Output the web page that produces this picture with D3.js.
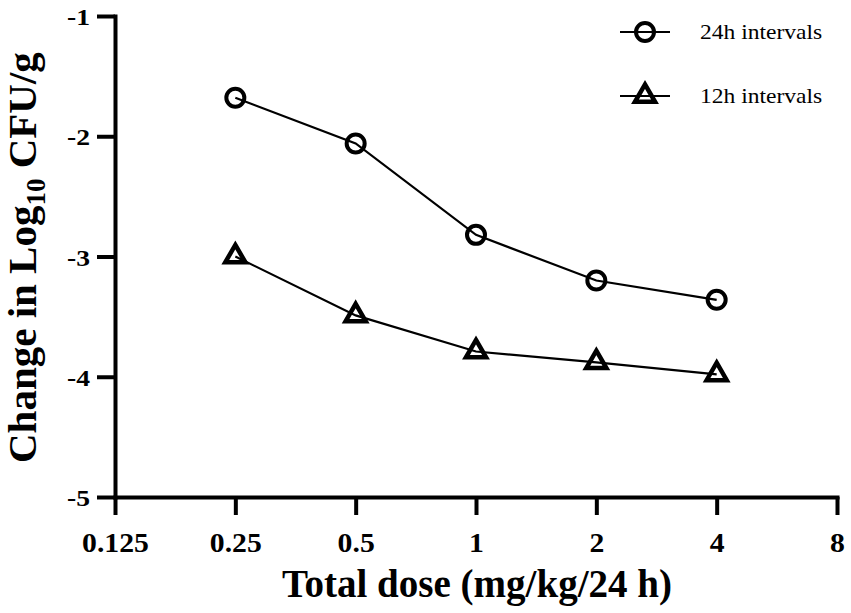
<!DOCTYPE html>
<html>
<head>
<meta charset="utf-8">
<script src="https://cdn.jsdelivr.net/npm/d3@7"></script>
<style>
  body { margin: 0; background: #fff; }
  svg { display: block; }
  text { font-family: "Liberation Serif", "Times New Roman", serif; fill: #000; }
</style>
</head>
<body>
<svg id="chart" width="851" height="613"></svg>
<script>
// ---- data ----
const doses = [0.25, 0.5, 1, 2, 4];
const series24h = [-1.68, -2.06, -2.82, -3.20, -3.36];
const series12h = [-3.00, -3.49, -3.79, -3.88, -3.98];
const seriesNames = ["24h intervals", "12h intervals"];
const xTickValues = [0.125, 0.25, 0.5, 1, 2, 4, 8];
const xTickLabels = ["0.125", "0.25", "0.5", "1", "2", "4", "8"];
const yTickValues = [-5, -4, -3, -2, -1];
const yTickLabels = ["-5", "-4", "-3", "-2", "-1"];

const svg = d3.select("#chart");
const x = d3.scaleLog().base(2).domain([0.125, 8]).range([115, 837]);
const y = d3.scaleLinear().domain([-5, -1]).range([497, 16]);

// x axis
const xAxis = svg.append("g").attr("transform", `translate(0,${y(-5)})`)
  .call(d3.axisBottom(x).tickValues(xTickValues)
    .tickFormat((d, i) => xTickLabels[i]).tickSize(18).tickSizeOuter(0).tickPadding(8));
xAxis.select(".domain").attr("stroke-width", 4).attr("stroke-linecap", "square");
xAxis.selectAll(".tick line").attr("stroke-width", 4);
xAxis.selectAll(".tick text")
  .attr("font-weight", "bold")
  .attr("font-size", 27).attr("transform", "scale(1.1,1)").attr("y", 55).attr("dy", 0);

// y axis
const yAxis = svg.append("g").attr("transform", `translate(${x(0.125)},0)`)
  .call(d3.axisLeft(y).tickValues(yTickValues)
    .tickFormat((d, i) => yTickLabels[i]).tickSize(18).tickSizeOuter(0).tickPadding(7));
yAxis.select(".domain").attr("stroke-width", 4).attr("stroke-linecap", "square");
yAxis.selectAll(".tick line").attr("stroke-width", 4);
yAxis.selectAll(".tick text")
  .attr("font-weight", "bold")
  .attr("font-size", 24).attr("x", -25 / 1.15).attr("dy", "0.36em").attr("transform", "scale(1.15,1)");

// axis titles
svg.append("text").attr("x", 282).attr("y", 597)
  .attr("font-weight", "bold").attr("font-size", 39)
  .attr("textLength", 390).attr("lengthAdjust", "spacingAndGlyphs")
  .text("Total dose (mg/kg/24 h)");

const yt = svg.append("text")
  .attr("transform", "translate(36,463) rotate(-90)")
  .attr("font-weight", "bold").attr("font-size", 41);
yt.append("tspan").text("Change in Log");
yt.append("tspan").attr("font-size", 27).attr("dy", 9).text("10");
yt.append("tspan").attr("dy", -9).text(" CFU/g");

// lines and markers
const line = d3.line().x((d, i) => x(doses[i])).y(d => y(d));
const triSym = d3.symbol().type(d3.symbolTriangle).size(175);

svg.append("path").datum(series24h).attr("d", line)
  .attr("fill", "none").attr("stroke", "#000").attr("stroke-width", 2.2);
svg.append("path").datum(series12h).attr("d", line)
  .attr("fill", "none").attr("stroke", "#000").attr("stroke-width", 2.2);

svg.selectAll("circle.m24").data(series24h).enter().append("circle")
  .attr("class", "m24")
  .attr("cx", (d, i) => x(doses[i])).attr("cy", d => y(d)).attr("r", 9)
  .attr("fill", "none").attr("stroke", "#000").attr("stroke-width", 4);

svg.selectAll("path.m12").data(series12h).enter().append("path")
  .attr("class", "m12")
  .attr("transform", (d, i) => `translate(${x(doses[i])},${y(d)})`)
  .attr("d", triSym)
  .attr("fill", "none").attr("stroke", "#000").attr("stroke-width", 4.5)
  .attr("stroke-linejoin", "miter");

// legend
const legend = svg.append("g");
const legY = [32, 96];
legY.forEach((ly, k) => {
  legend.append("line").attr("x1", 620).attr("x2", 670).attr("y1", ly).attr("y2", ly)
    .attr("stroke", "#000").attr("stroke-width", 2.2);
  if (k === 0) {
    legend.append("circle").attr("cx", 645).attr("cy", ly).attr("r", 9)
      .attr("fill", "none").attr("stroke", "#000").attr("stroke-width", 4);
  } else {
    legend.append("path").attr("transform", `translate(645,${ly})`).attr("d", triSym)
      .attr("fill", "none").attr("stroke", "#000").attr("stroke-width", 4.5);
  }
  legend.append("text").attr("x", 700 / 1.07).attr("y", ly + 7)
    .attr("transform", "scale(1.07,1)")
    .attr("font-size", 22).text(seriesNames[k]);
});
</script>
</body>
</html>
